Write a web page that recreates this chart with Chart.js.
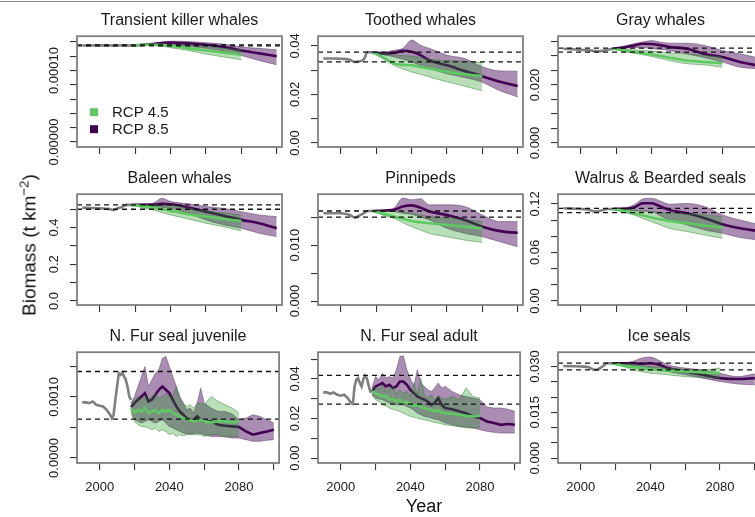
<!DOCTYPE html>
<html>
<head>
<meta charset="utf-8">
<script src="https://cdn.jsdelivr.net/npm/chart.js@4.4.0/dist/chart.umd.min.js"></script>
<style>
body { margin:0; width:755px; height:517px; overflow:hidden; background:#fff; position:relative; font-family:"Liberation Sans", Arial, sans-serif; }
canvas { position:absolute; }
#topline { position:absolute; left:0; top:1px; width:755px; height:0; border-top:1px solid #8c8c8c; }
#ylab { position:absolute; left:29px; top:245px; transform:translate(-50%,-50%) rotate(-90deg); font-size:19px; line-height:1; white-space:nowrap; color:#111; z-index:5; }
#ylab sup { font-size:0.7em; vertical-align:0.55em; line-height:0; }
#xlab { position:absolute; left:424px; top:497px; transform:translateX(-50%); font-size:18px; line-height:1; color:#111; z-index:5; }
</style>
</head>
<body>
<div id="topline"></div>
<div id="ylab">Biomass (t km<sup>−2</sup>)</div>
<div id="xlab">Year</div>
<script>
// years
var histYears = [1990, 1995, 2000, 2005, 2008, 2010, 2013, 2015, 2018];
var projYears45 = [2018, 2025, 2030, 2035, 2040, 2045, 2050, 2060, 2070, 2080];
var projYears85 = [2018, 2025, 2030, 2035, 2040, 2045, 2050, 2060, 2070, 2080, 2090, 2100];
var furHistYears = [1990, 1992, 1994, 1996, 1998, 2000, 2002, 2004, 2006, 2007, 2008, 2009, 2010, 2011, 2012, 2013, 2014, 2015, 2016, 2017, 2018];
var furYears45 = [2018, 2020, 2022, 2024, 2026, 2028, 2030, 2032, 2034, 2036, 2038, 2040, 2042, 2044, 2046, 2048, 2050, 2052, 2054, 2056, 2058, 2060, 2064, 2068, 2072, 2076, 2080];
var furYears85 = [2018, 2020, 2022, 2024, 2026, 2028, 2030, 2032, 2034, 2036, 2038, 2040, 2042, 2044, 2046, 2048, 2050, 2052, 2054, 2056, 2058, 2060, 2064, 2068, 2072, 2076, 2080, 2084, 2088, 2092, 2096, 2100];

var xTicks = [2000, 2020, 2040, 2060, 2080, 2100];
var xTickText = ['2000', '', '2040', '', '2080', ''];

var panelTitles = ['Transient killer whales', 'Toothed whales', 'Gray whales', 'Baleen whales', 'Pinnipeds',
  'Walrus & Bearded seals', 'N. Fur seal juvenile', 'N. Fur seal adult', 'Ice seals'];
var legendLabels = ['RCP 4.5', 'RCP 8.5'];

// Transient killer whales
var tkwHist = [0.000135, 0.000135, 0.0001352, 0.000135, 0.0001348, 0.000135, 0.0001352, 0.000135, 0.000135];
var tkw45Mean = [0.000135, 0.000136, 0.000136, 0.0001355, 0.0001345, 0.000133, 0.000131, 0.000128, 0.000125, 0.000122];
var tkw45Hi = [0.000135, 0.0001365, 0.000137, 0.000137, 0.000136, 0.0001355, 0.0001345, 0.000133, 0.000131, 0.000129];
var tkw45Lo = [0.000135, 0.0001355, 0.000135, 0.000134, 0.000132, 0.00013, 0.000128, 0.000123, 0.000119, 0.000115];
var tkw85Mean = [0.000135, 0.000136, 0.000137, 0.0001385, 0.000139, 0.0001385, 0.000138, 0.000136, 0.000133, 0.000128, 0.000124, 0.00012];
var tkw85Hi = [0.000135, 0.0001365, 0.000138, 0.00014, 0.000141, 0.000141, 0.0001405, 0.000139, 0.000137, 0.000133, 0.000131, 0.000129];
var tkw85Lo = [0.000135, 0.0001355, 0.000136, 0.0001365, 0.000136, 0.000135, 0.000134, 0.000131, 0.000127, 0.000121, 0.000114, 0.000108];
var tkwRef = [0.0001345, 0.000136];
var tkwTicks = [0, 0.00002, 0.00004, 0.00006, 0.00008, 0.0001, 0.00012, 0.00014];
var tkwTickText = ['0.00000', '', '', '', '', '0.00010', '', ''];

// Toothed whales
var toothHist = [0.0348, 0.0348, 0.0347, 0.0343, 0.0334, 0.0336, 0.0345, 0.0375, 0.0373];
var tooth45Mean = [0.0373, 0.0348, 0.0327, 0.0322, 0.032, 0.0313, 0.0307, 0.0293, 0.0283, 0.0275];
var tooth45Hi = [0.0373, 0.0369, 0.0362, 0.036, 0.0358, 0.0352, 0.0345, 0.034, 0.0336, 0.0332];
var tooth45Lo = [0.0373, 0.0341, 0.032, 0.0305, 0.0293, 0.0283, 0.0272, 0.0252, 0.0234, 0.0215];
var tooth85Mean = [0.0373, 0.0369, 0.0371, 0.038, 0.0376, 0.0362, 0.0341, 0.032, 0.0297, 0.0275, 0.0252, 0.0235];
var tooth85Hi = [0.0373, 0.0375, 0.0382, 0.039, 0.0424, 0.0403, 0.039, 0.0362, 0.0348, 0.0314, 0.0297, 0.0296];
var tooth85Lo = [0.0373, 0.0362, 0.0355, 0.0345, 0.0334, 0.032, 0.0307, 0.0285, 0.027, 0.025, 0.0215, 0.019];
var toothRef = [0.0334, 0.0374];
var toothTicks = [0, 0.01, 0.02, 0.03, 0.04];
var toothTickText = ['0.00', '', '0.02', '', '0.04'];

// Gray whales
var grayHist = [0.0325, 0.0323, 0.0321, 0.0319, 0.0317, 0.0316, 0.0319, 0.0321, 0.0325];
var gray45Mean = [0.0325, 0.0318, 0.0313, 0.0309, 0.0305, 0.03, 0.0294, 0.0284, 0.0279, 0.0275];
var gray45Hi = [0.0325, 0.0323, 0.0321, 0.0319, 0.0317, 0.0313, 0.031, 0.0307, 0.0302, 0.0296];
var gray45Lo = [0.0325, 0.0315, 0.031, 0.0304, 0.0298, 0.0291, 0.0284, 0.0273, 0.0269, 0.0261];
var gray85Mean = [0.0325, 0.033, 0.0336, 0.0342, 0.0341, 0.0337, 0.0331, 0.0325, 0.0307, 0.0296, 0.0279, 0.0267];
var gray85Hi = [0.0325, 0.0335, 0.0342, 0.0348, 0.0353, 0.0347, 0.0344, 0.0344, 0.0336, 0.0319, 0.0307, 0.0294];
var gray85Lo = [0.0325, 0.0327, 0.0328, 0.0328, 0.0325, 0.0322, 0.0319, 0.0307, 0.0294, 0.0279, 0.0261, 0.0256];
var grayRef = [0.0313, 0.0327];
var grayTicks = [0, 0.005, 0.01, 0.015, 0.02, 0.025, 0.03, 0.035];
var grayTickText = ['0.000', '', '', '', '0.020', '', '', ''];

// Baleen whales
var baleenHist = [0.509, 0.507, 0.505, 0.502, 0.496, 0.505, 0.515, 0.524, 0.524];
var baleen45Mean = [0.524, 0.515, 0.509, 0.5, 0.491, 0.482, 0.473, 0.46, 0.447, 0.436];
var baleen45Hi = [0.524, 0.524, 0.524, 0.522, 0.52, 0.513, 0.505, 0.49, 0.48, 0.469];
var baleen45Lo = [0.524, 0.505, 0.496, 0.482, 0.469, 0.458, 0.447, 0.424, 0.405, 0.382];
var baleen85Mean = [0.524, 0.524, 0.524, 0.529, 0.527, 0.52, 0.509, 0.487, 0.465, 0.442, 0.424, 0.396];
var baleen85Hi = [0.524, 0.53, 0.533, 0.56, 0.542, 0.535, 0.53, 0.515, 0.505, 0.487, 0.469, 0.46];
var baleen85Lo = [0.524, 0.518, 0.515, 0.51, 0.505, 0.492, 0.478, 0.442, 0.415, 0.396, 0.369, 0.351];
var baleenRef = [0.5, 0.524];
var baleenTicks = [0, 0.1, 0.2, 0.3, 0.4, 0.5];
var baleenTickText = ['0.0', '', '0.2', '', '0.4', ''];

// Pinnipeds
var pinnHist = [0.0157, 0.0157, 0.0157, 0.0154, 0.0149, 0.0152, 0.0157, 0.0161, 0.0161];
var pinn45Mean = [0.0161, 0.0155, 0.0151, 0.0147, 0.0143, 0.0141, 0.0139, 0.0136, 0.0133, 0.013];
var pinn45Hi = [0.0161, 0.0161, 0.016, 0.0158, 0.0157, 0.0154, 0.0151, 0.0148, 0.0145, 0.0142];
var pinn45Lo = [0.0161, 0.0152, 0.0148, 0.014, 0.0133, 0.0127, 0.0121, 0.0115, 0.0109, 0.0105];
var pinn85Mean = [0.0161, 0.0162, 0.0163, 0.0169, 0.0171, 0.0167, 0.016, 0.0154, 0.0145, 0.0133, 0.0125, 0.0122];
var pinn85Hi = [0.0161, 0.0162, 0.0166, 0.0184, 0.0181, 0.0183, 0.0172, 0.0172, 0.0169, 0.0154, 0.0142, 0.0142];
var pinn85Lo = [0.0161, 0.016, 0.016, 0.0157, 0.0155, 0.015, 0.0145, 0.013, 0.0121, 0.0115, 0.0106, 0.0097];
var pinnRef = [0.015, 0.0161];
var pinnTicks = [0, 0.005, 0.01, 0.015];
var pinnTickText = ['0.000', '', '0.010', ''];

// Walrus & Bearded seals
var walrusHist = [0.1146, 0.1142, 0.1138, 0.1126, 0.1105, 0.1113, 0.1126, 0.1138, 0.1138];
var walrus45Mean = [0.1138, 0.111, 0.1084, 0.1058, 0.1031, 0.101, 0.099, 0.0961, 0.0932, 0.0907];
var walrus45Hi = [0.1138, 0.1135, 0.1126, 0.1113, 0.1105, 0.1095, 0.1085, 0.1072, 0.1064, 0.1043];
var walrus45Lo = [0.1138, 0.109, 0.1064, 0.102, 0.0981, 0.094, 0.0899, 0.0858, 0.0816, 0.0775];
var walrus85Mean = [0.1138, 0.114, 0.1155, 0.1208, 0.1208, 0.1167, 0.1126, 0.1084, 0.1023, 0.0948, 0.0899, 0.0866];
var walrus85Hi = [0.1138, 0.115, 0.1188, 0.1262, 0.127, 0.1235, 0.1196, 0.1205, 0.1167, 0.1064, 0.1002, 0.0948];
var walrus85Lo = [0.1138, 0.113, 0.1113, 0.111, 0.1105, 0.105, 0.1002, 0.094, 0.0878, 0.0837, 0.0784, 0.0755];
var walrusRef = [0.1093, 0.1146];
var walrusTicks = [0, 0.02, 0.04, 0.06, 0.08, 0.1, 0.12];
var walrusTickText = ['0.00', '', '', '0.06', '', '', '0.12'];

// N. Fur seal juvenile
var juvHist = [0.000911, 0.000911, 0.0009, 0.000927, 0.000872, 0.000856, 0.000845, 0.000791, 0.000709, 0.000654, 0.000709,
  0.000954, 0.001172, 0.00139, 0.001363, 0.001401, 0.001336, 0.001281, 0.001172, 0.001009, 0.000954];
var juv45Mean = [0.000818, 0.000736, 0.000791, 0.000763, 0.000818, 0.000736, 0.000763, 0.000791, 0.000736, 0.000791, 0.000763,
  0.000791, 0.000736, 0.000709, 0.000682, 0.000654, 0.000627, 0.000627, 0.0006, 0.000627, 0.000627, 0.0006,
  0.000583, 0.0006, 0.0006, 0.000583, 0.0006];
var juv45Hi = [0.0009, 0.000954, 0.001009, 0.000954, 0.001036, 0.000954, 0.001009, 0.001063, 0.000981, 0.001009, 0.001063,
  0.001009, 0.001009, 0.001172, 0.000954, 0.0009, 0.000845, 0.000872, 0.000818, 0.0009, 0.0009, 0.000872,
  0.001009, 0.000927, 0.000872, 0.000818, 0.000736];
var juv45Lo = [0.000736, 0.0006, 0.000545, 0.000518, 0.000518, 0.000491, 0.000463, 0.000491, 0.000436, 0.000463, 0.000436,
  0.000382, 0.000409, 0.000354, 0.000382, 0.000365, 0.000382, 0.000409, 0.000382, 0.000382, 0.000382, 0.000354,
  0.000382, 0.000382, 0.000354, 0.000354, 0.000354];
var juv85Mean = [0.000834, 0.0009, 0.000954, 0.001009, 0.001063, 0.000927, 0.000954, 0.001036, 0.001118, 0.001172, 0.001118,
  0.001063, 0.000954, 0.000845, 0.000763, 0.000709, 0.000654, 0.000627, 0.000627, 0.000682, 0.000627, 0.0006,
  0.0006, 0.000545, 0.000529, 0.000518, 0.000507, 0.000436, 0.000382, 0.000409, 0.000436, 0.000463];
var juv85Hi = [0.0009, 0.001009, 0.001172, 0.001336, 0.0015, 0.001172, 0.001281, 0.00139, 0.001445, 0.001636, 0.001663,
  0.0015, 0.001336, 0.001172, 0.001009, 0.0009, 0.000791, 0.000818, 0.000736, 0.0009, 0.001145, 0.0009,
  0.000818, 0.000763, 0.000763, 0.000725, 0.000627, 0.000654, 0.000709, 0.000682, 0.000627, 0.000573];
var juv85Lo = [0.000791, 0.000627, 0.0006, 0.000573, 0.0006, 0.000627, 0.0006, 0.000573, 0.0006, 0.000627, 0.000573,
  0.000518, 0.000491, 0.000463, 0.000436, 0.000409, 0.000398, 0.000382, 0.000398, 0.000409, 0.000398, 0.000382,
  0.000354, 0.000354, 0.000344, 0.000327, 0.000327, 0.0003, 0.000273, 0.000273, 0.000289, 0.0003];
var juvRef = [0.000638, 0.001418];
var juvTicks = [0, 0.0005, 0.001, 0.0015];
var juvTickText = ['0.0000', '', '0.0010', ''];

// N. Fur seal adult
var adHist = [0.0332, 0.0332, 0.0325, 0.0332, 0.032, 0.0315, 0.032, 0.0303, 0.0278, 0.0274, 0.0362,
  0.0396, 0.0404, 0.0379, 0.0362, 0.0399, 0.0416, 0.0404, 0.037, 0.0337, 0.0337];
var ad45Mean = [0.0337, 0.0328, 0.032, 0.0311, 0.0315, 0.0295, 0.0298, 0.0286, 0.0295, 0.0278, 0.0286,
  0.0269, 0.0264, 0.0269, 0.0258, 0.0253, 0.0247, 0.0244, 0.0236, 0.0241, 0.0231, 0.0227,
  0.0224, 0.0219, 0.0214, 0.021, 0.0214];
var ad45Hi = [0.0345, 0.0362, 0.0345, 0.037, 0.0337, 0.0354, 0.0362, 0.032, 0.0345, 0.0328, 0.0337,
  0.0311, 0.0379, 0.032, 0.0404, 0.032, 0.0303, 0.032, 0.0295, 0.0311, 0.0303, 0.0295,
  0.0311, 0.0295, 0.0354, 0.0311, 0.0303];
var ad45Lo = [0.032, 0.0295, 0.0286, 0.0269, 0.0264, 0.0253, 0.0247, 0.0241, 0.0236, 0.0227, 0.0219,
  0.021, 0.0207, 0.0202, 0.0197, 0.0194, 0.019, 0.0185, 0.018, 0.0177, 0.0173, 0.0168,
  0.0163, 0.016, 0.0152, 0.0152, 0.0157];
var ad85Mean = [0.0337, 0.0362, 0.037, 0.0379, 0.0362, 0.037, 0.0354, 0.0362, 0.0387, 0.0387, 0.037,
  0.0345, 0.0328, 0.0311, 0.0303, 0.0295, 0.0286, 0.0269, 0.0278, 0.0303, 0.0269, 0.0253,
  0.0247, 0.0236, 0.0227, 0.021, 0.0202, 0.0185, 0.0177, 0.0168, 0.0172, 0.0168];
var ad85Hi = [0.0354, 0.0412, 0.0396, 0.0429, 0.0404, 0.0412, 0.0404, 0.0446, 0.0513, 0.0517, 0.0446,
  0.0404, 0.0362, 0.0446, 0.0379, 0.0362, 0.0345, 0.0337, 0.0354, 0.0379, 0.0354, 0.0362,
  0.0337, 0.032, 0.0311, 0.0303, 0.0295, 0.0258, 0.0253, 0.0253, 0.0247, 0.0236];
var ad85Lo = [0.032, 0.0303, 0.0298, 0.0295, 0.0286, 0.0278, 0.0274, 0.0269, 0.0269, 0.0269, 0.0261,
  0.0253, 0.0241, 0.0227, 0.0219, 0.021, 0.0207, 0.0202, 0.0197, 0.0194, 0.0185, 0.0177,
  0.0168, 0.016, 0.0157, 0.0152, 0.0143, 0.0135, 0.013, 0.0126, 0.0126, 0.0126];
var adRef = [0.0273, 0.0418];
var adTicks = [0, 0.01, 0.02, 0.03, 0.04, 0.05];
var adTickText = ['0.00', '', '0.02', '', '0.04', ''];

// Ice seals
var iceHist = [0.0302, 0.0301, 0.03, 0.0297, 0.0289, 0.0291, 0.0302, 0.0311, 0.0311];
var ice45Mean = [0.0311, 0.0302, 0.0298, 0.0295, 0.0291, 0.0289, 0.0287, 0.0284, 0.0281, 0.0278];
var ice45Hi = [0.0311, 0.0309, 0.0306, 0.0302, 0.03, 0.0298, 0.0295, 0.0291, 0.0289, 0.0295];
var ice45Lo = [0.0311, 0.03, 0.0289, 0.0284, 0.0278, 0.0276, 0.0273, 0.0267, 0.0265, 0.0262];
var ice85Mean = [0.0311, 0.0311, 0.0311, 0.0309, 0.0311, 0.0306, 0.0295, 0.0284, 0.0273, 0.0262, 0.0259, 0.0262];
var ice85Hi = [0.0311, 0.0313, 0.0317, 0.0328, 0.0331, 0.032, 0.0306, 0.0295, 0.0289, 0.0278, 0.0267, 0.0276];
var ice85Lo = [0.0311, 0.0308, 0.0302, 0.03, 0.0295, 0.0289, 0.0284, 0.0273, 0.0262, 0.0251, 0.0243, 0.024];
var iceRef = [0.0289, 0.0311];
var iceTicks = [0, 0.005, 0.01, 0.015, 0.02, 0.025, 0.03];
var iceTickText = ['0.000', '', '', '0.015', '', '', '0.030'];

// layout
var FONT = '"Liberation Sans", Arial, sans-serif';
var xMin = 1987, xMax = 2103;
var colLeft = [77, 318, 558];
var rowTop = [36, 194, 352];
var boxW = 205, boxH = 111, yAxisW = 50, titleH = 36, spare = 30;
var green = '#5ec962', greenFill = 'rgba(20,150,20,0.3)', greenEdge = 'rgba(50,120,50,0.6)';
var purple = '#440154', purpleFill = 'rgba(68,1,84,0.45)', purpleEdge = 'rgba(70,40,85,0.55)';
var histGray = '#7f7f7f';

function pts(years, vals) {
    return years.map(function (x, i) { return { x: x, y: vals[i] }; });
}

var smooth = { hy: histYears, y45: projYears45, y85: projYears85, jag: false };
var furry = { hy: furHistYears, y45: furYears45, y85: furYears85, jag: true };

var panels = [
    { yr: smooth, hist: tkwHist, m45: tkw45Mean, h45: tkw45Hi, l45: tkw45Lo, m85: tkw85Mean, h85: tkw85Hi, l85: tkw85Lo, ref: tkwRef, ticks: tkwTicks, text: tkwTickText, ymin: -0.000007, ymax: 0.000148 },
    { yr: smooth, hist: toothHist, m45: tooth45Mean, h45: tooth45Hi, l45: tooth45Lo, m85: tooth85Mean, h85: tooth85Hi, l85: tooth85Lo, ref: toothRef, ticks: toothTicks, text: toothTickText, ymin: -0.00165, ymax: 0.044 },
    { yr: smooth, hist: grayHist, m45: gray45Mean, h45: gray45Hi, l45: gray45Lo, m85: gray85Mean, h85: gray85Hi, l85: gray85Lo, ref: grayRef, ticks: grayTicks, text: grayTickText, ymin: -0.0014, ymax: 0.0368 },
    { yr: smooth, hist: baleenHist, m45: baleen45Mean, h45: baleen45Hi, l45: baleen45Lo, m85: baleen85Mean, h85: baleen85Hi, l85: baleen85Lo, ref: baleenRef, ticks: baleenTicks, text: baleenTickText, ymin: -0.022, ymax: 0.582 },
    { yr: smooth, hist: pinnHist, m45: pinn45Mean, h45: pinn45Hi, l45: pinn45Lo, m85: pinn85Mean, h85: pinn85Hi, l85: pinn85Lo, ref: pinnRef, ticks: pinnTicks, text: pinnTickText, ymin: -0.0007, ymax: 0.0191 },
    { yr: smooth, hist: walrusHist, m45: walrus45Mean, h45: walrus45Hi, l45: walrus45Lo, m85: walrus85Mean, h85: walrus85Hi, l85: walrus85Lo, ref: walrusRef, ticks: walrusTicks, text: walrusTickText, ymin: -0.0049, ymax: 0.132 },
    { yr: furry, hist: juvHist, m45: juv45Mean, h45: juv45Hi, l45: juv45Lo, m85: juv85Mean, h85: juv85Hi, l85: juv85Lo, ref: juvRef, ticks: juvTicks, text: juvTickText, ymin: -0.000082, ymax: 0.001734 },
    { yr: furry, hist: adHist, m45: ad45Mean, h45: ad45Hi, l45: ad45Lo, m85: ad85Mean, h85: ad85Hi, l85: ad85Lo, ref: adRef, ticks: adTicks, text: adTickText, ymin: -0.0025, ymax: 0.0535 },
    { yr: smooth, hist: iceHist, m45: ice45Mean, h45: ice45Hi, l45: ice45Lo, m85: ice85Mean, h85: ice85Hi, l85: ice85Lo, ref: iceRef, ticks: iceTicks, text: iceTickText, ymin: -0.0016, ymax: 0.0347 }
];

// box, rotated y labels, legend
var panelDecor = {
    id: 'panelDecor',
    afterDatasetsDraw: function (chart) {
        var a = chart.chartArea, ctx = chart.ctx;
        ctx.save();
        ctx.strokeStyle = '#808080';
        ctx.lineWidth = 1.8;
        ctx.strokeRect(a.left, a.top, a.right - a.left, a.bottom - a.top);
        ctx.restore();
    },
    afterDraw: function (chart, args, opts) {
        var a = chart.chartArea, ctx = chart.ctx, ys = chart.scales.y;
        ctx.save();
        ctx.fillStyle = '#1a1a1a';
        ctx.font = '13px ' + FONT;
        ctx.textAlign = 'center';
        ctx.textBaseline = 'middle';
        ys.ticks.forEach(function (t, i) {
            var s = opts.text[i];
            if (!s) return;
            ctx.save();
            ctx.translate(a.left - 23, ys.getPixelForValue(t.value));
            ctx.rotate(-Math.PI / 2);
            ctx.fillText(s, 0, 0);
            ctx.restore();
        });
        if (opts.legend) {
            var cols = [green, purple];
            ctx.font = '15px ' + FONT;
            ctx.textAlign = 'left';
            legendLabels.forEach(function (lab, k) {
                var cy = a.top + 76 + k * 17;
                ctx.fillStyle = cols[k];
                ctx.fillRect(a.left + 13, cy - 4, 8, 8);
                ctx.fillStyle = '#1a1a1a';
                ctx.fillText(lab, a.left + 35, cy + 1);
            });
        }
        ctx.restore();
    }
};

function line(data, color, width, extra) {
    var d = { data: data, borderColor: color, borderWidth: width, pointRadius: 0, fill: false, tension: 0 };
    for (var k in extra) d[k] = extra[k];
    return d;
}

panels.forEach(function (p, i) {
    var col = i % 3, row = Math.floor(i / 3);
    var bottomRow = row === 2;
    var xAxisH = bottomRow ? 43 : 13;
    var cv = document.createElement('canvas');
    cv.width = yAxisW + boxW + 2;
    cv.height = titleH + boxH + xAxisH + spare;
    cv.style.left = (colLeft[col] - yAxisW) + 'px';
    cv.style.top = (rowTop[row] - titleH) + 'px';
    document.body.appendChild(cv);

    var interp = p.yr.jag ? {} : { cubicInterpolationMode: 'monotone' };
    var datasets = [
        line(pts([xMin, xMax], [p.ref[0], p.ref[0]]), '#111', 1.3, { borderDash: [5, 4] }),
        line(pts([xMin, xMax], [p.ref[1], p.ref[1]]), '#111', 1.3, { borderDash: [5, 4] }),
        line(pts(p.yr.hy, p.hist), histGray, 2.6, interp),
        line(pts(p.yr.y45, p.m45), green, 2.6, interp),
        line(pts(p.yr.y45, p.h45), greenEdge, 0.8, Object.assign({ fill: '+1', backgroundColor: greenFill }, interp)),
        line(pts(p.yr.y45, p.l45), greenEdge, 0.8, interp),
        line(pts(p.yr.y85, p.m85), purple, 2.6, interp),
        line(pts(p.yr.y85, p.h85), purpleEdge, 0.8, Object.assign({ fill: '+1', backgroundColor: purpleFill }, interp)),
        line(pts(p.yr.y85, p.l85), purpleEdge, 0.8, interp)
    ];

    new Chart(cv.getContext('2d'), {
        type: 'line',
        data: { datasets: datasets },
        plugins: [panelDecor],
        options: {
            responsive: false,
            animation: false,
            events: [],
            layout: { padding: { right: 2, bottom: spare }, autoPadding: false },
            plugins: {
                legend: { display: false },
                tooltip: { enabled: false },
                title: {
                    display: true, text: panelTitles[i], fullSize: false, color: '#1a1a1a',
                    font: { family: FONT, size: 16, weight: 'normal' }, padding: { top: 11, bottom: 6 }
                },
                panelDecor: { text: p.text, legend: i === 0 }
            },
            scales: {
                x: {
                    type: 'linear', min: xMin, max: xMax,
                    afterBuildTicks: function (s) { s.ticks = xTicks.map(function (v) { return { value: v }; }); },
                    afterFit: function (s) { s.height = xAxisH; },
                    grid: { drawOnChartArea: false, drawTicks: true, tickLength: 7, color: '#333', lineWidth: 1.1 },
                    border: { display: false },
                    ticks: {
                        display: bottomRow, autoSkip: false, maxRotation: 0, padding: 10, color: '#1a1a1a',
                        font: { family: FONT, size: 13 },
                        callback: function (v, k) { return xTickText[k]; }
                    }
                },
                y: {
                    type: 'linear', min: p.ymin, max: p.ymax,
                    afterBuildTicks: function (s) { s.ticks = p.ticks.map(function (v) { return { value: v }; }); },
                    afterFit: function (s) { s.width = yAxisW; },
                    grid: { drawOnChartArea: false, drawTicks: true, tickLength: 7, color: '#333', lineWidth: 1.1 },
                    border: { display: false },
                    ticks: { display: false }
                }
            }
        }
    });
});
</script>
</body>
</html>
